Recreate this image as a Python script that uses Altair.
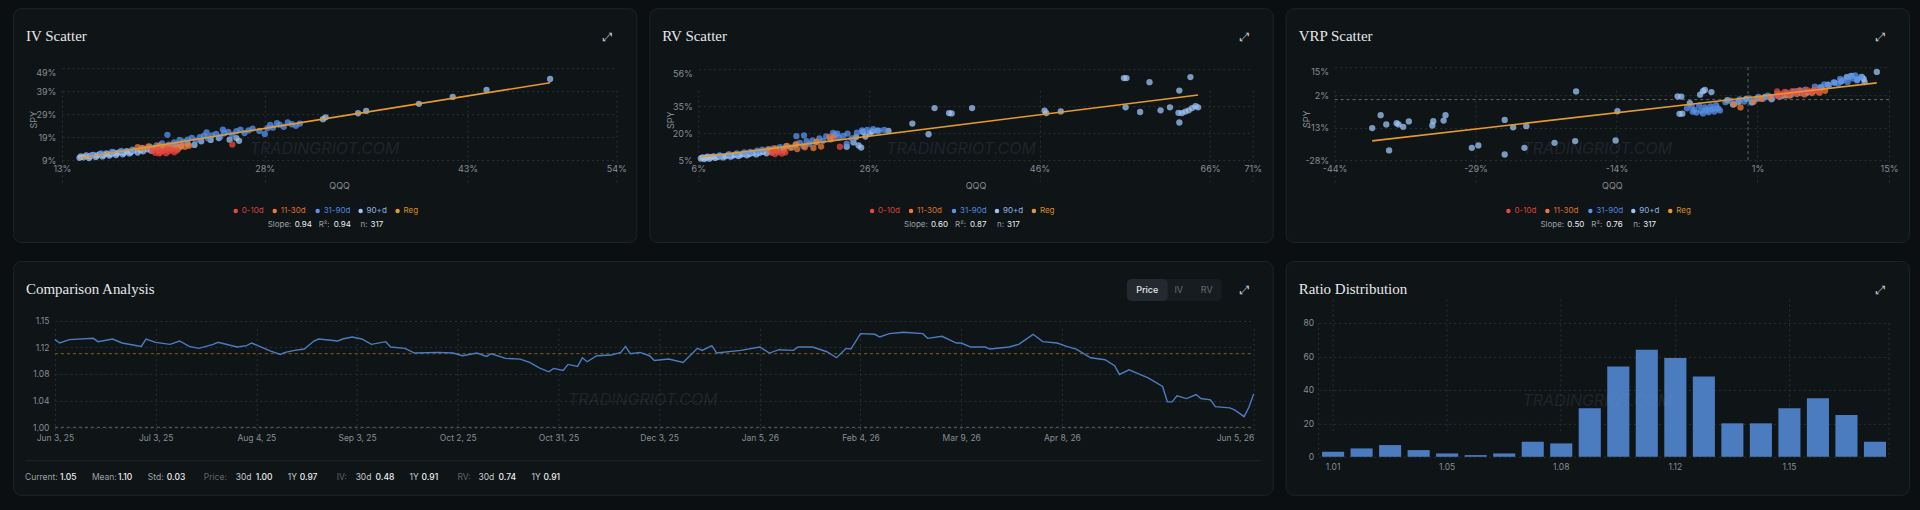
import json
import altair as alt
import pandas as pd

# ---------------- palette / fonts ----------------
PAGE_BG = "#0b0f12"
CARD_BG = "#0f1417"
CARD_BORDER = "#1d2428"
GRID_COLOR = "#2a3136"
AXIS_LABEL = "#868d93"
TITLE_COLOR = "#e6e7e8"
MUTED = "#9aa0a6"
DIM = "#5d646a"
SOFT = "#c3c7cb"
BRIGHT = "#eceff1"
SANS = "Inter"
SERIF = "Liberation Serif"

CARD_W, CARD_H = 624, 234
WIDE_W = 1261

AGES = ["0-10d", "11-30d", "31-90d", "90+d"]
AGE_COLORS = ["#e8483e", "#f07a30", "#5a92ec", "#9ec4f5"]
REG_COLOR = "#e49b2c"
LINE_BLUE = "#4c7dc0"
BAR_BLUE = "#4b7cc0"

# ---------------- IV scatter (QQQ vs SPY implied vol, %) ----------------
IV_0_10_QQQ = [19.7, 19.9, 20.1, 20.3, 20.5, 20.7, 20.9, 21.1, 21.3, 21.5, 20.2, 20.8, 25.6]
IV_0_10_SPY = [13.0, 12.2, 13.4, 12.5, 13.1, 12.0, 12.8, 13.5, 12.4, 13.2, 11.9, 13.9, 15.8]
IV_11_30_QQQ = [18.6, 19.0, 19.4, 19.8, 20.2, 20.6, 21.0, 21.4, 21.8, 22.1, 22.4, 21.6]
IV_11_30_SPY = [14.6, 14.2, 15.0, 14.0, 15.3, 14.5, 15.1, 14.3, 15.6, 14.8, 15.2, 13.9]
IV_31_90_QQQ = [15.2, 15.9, 16.7, 17.4, 18.2, 18.9, 19.5, 20.0, 20.4, 20.9,
                21.3, 21.7, 22.0, 22.3, 22.6, 22.9, 23.2, 23.5, 23.8, 24.1,
                24.4, 24.7, 25.0, 25.3, 25.6, 25.9, 26.2, 26.5, 26.8, 27.1,
                27.6, 28.0, 28.2, 28.4, 28.6, 28.9, 29.1, 29.4, 29.7, 30.0,
                30.3, 30.6, 20.8, 23.7, 24.9]
IV_31_90_SPY = [11.1, 11.9, 12.6, 13.0, 13.5, 14.3, 14.9, 15.4, 16.3, 15.7,
                16.7, 17.8, 17.0, 17.9, 18.7, 17.6, 19.0, 19.6, 18.5, 19.8,
                20.4, 19.2, 20.7, 21.3, 20.1, 21.6, 22.2, 20.8, 21.9, 22.7,
                21.7, 20.4, 22.9, 24.3, 23.1, 25.1, 24.4, 23.5, 25.4, 24.6,
                23.9, 24.9, 20.0, 21.0, 22.3]
IV_90_QQQ = [14.3, 14.4, 14.6, 14.8, 15.0, 15.1, 15.3, 15.5, 15.6, 15.8,
             16.0, 16.1, 16.3, 16.5, 16.6, 16.8, 17.0, 17.1, 17.3, 17.5,
             17.6, 17.8, 18.0, 18.1, 18.3, 18.6, 18.8, 19.0, 19.3, 19.6,
             19.9, 20.3, 20.6, 21.0, 21.4, 21.8, 22.3, 22.8, 23.3, 24.0,
             24.6, 25.4, 25.9, 26.1,
             32.3, 32.5, 34.9, 35.5, 39.4, 41.9, 44.4, 49.1]
IV_90_SPY = [10.0, 10.6, 10.2, 11.0, 9.9, 10.7, 11.3, 10.3, 11.0, 11.6,
             10.6, 11.3, 11.9, 11.0, 11.6, 12.3, 11.2, 12.0, 12.6, 11.5,
             12.2, 12.9, 11.9, 12.5, 13.2, 12.3, 13.4, 12.8, 13.7, 13.1,
             14.2, 13.6, 14.7, 14.3, 15.4, 14.9, 16.0, 15.6, 17.2, 17.8,
             18.6, 17.9, 18.6, 17.4,
             26.8, 27.6, 29.4, 30.4, 33.5, 36.5, 39.6, 44.3]
IV_FIT = {"slope": 0.94, "intercept": -3.5, "r2": 0.94, "n": 317}

# ---------------- RV scatter (realized vol, %) ----------------
RV_0_10_QQQ = [14.6, 15.0, 15.4, 15.8, 16.2, 14.9, 22.6]
RV_0_10_SPY = [9.1, 8.4, 9.5, 8.7, 9.3, 10.2, 12.5]
RV_11_30_QQQ = [14.3, 15.1, 16.0, 16.8, 17.6, 18.5, 19.5, 20.4, 21.4, 21.8, 16.4, 17.5, 19.9]
RV_11_30_SPY = [10.9, 11.6, 10.4, 11.9, 11.2, 12.2, 11.8, 12.6, 18.0, 17.4, 13.0, 13.9, 15.3]
RV_31_90_QQQ = [8.5, 9.6, 10.5, 11.4, 12.1, 12.9, 13.5, 14.2, 14.8, 15.6,
                16.3, 17.0, 17.4, 17.9, 18.3, 18.7, 19.0, 19.4, 19.8, 20.2,
                20.6, 21.0, 21.5, 22.0, 22.5, 23.0, 23.5, 24.0, 24.6, 25.2,
                25.8, 26.5, 27.2, 27.8, 17.5, 22.3, 21.8, 23.4, 18.4]
RV_31_90_SPY = [7.6, 8.3, 8.8, 9.3, 9.6, 10.3, 10.8, 11.2, 11.5, 12.3,
                12.8, 12.1, 13.6, 14.6, 12.9, 15.6, 14.0, 16.1, 14.9, 17.2,
                15.8, 18.3, 16.6, 19.1, 17.7, 18.6, 19.9, 17.1, 20.4, 21.6,
                21.9, 22.3, 21.5, 22.0, 18.4, 19.8, 20.3, 14.2, 18.8]
RV_90_QQQ = [6.3, 6.5, 6.7, 6.9, 7.1, 7.3, 7.5, 7.8, 8.0, 8.3,
             8.6, 8.9, 9.2, 9.5, 9.8, 10.1, 10.4, 10.7, 11.0, 11.3,
             11.7, 12.0, 12.4, 12.8, 13.2, 13.6, 14.0, 14.5, 15.2, 16.0,
             23.4, 24.2, 24.5, 24.8, 25.1, 25.3, 25.6, 26.1, 26.4, 27.0, 28.3,
             31.1, 33.0, 33.7, 35.4, 35.7, 38.1, 46.6, 46.8, 48.5,
             55.9, 56.2, 56.1, 57.8, 58.9, 60.2, 61.3, 62.3, 62.7, 63.1,
             63.5, 62.4, 62.4, 63.7, 63.9, 64.3, 64.6]
RV_90_SPY = [5.9, 6.5, 5.6, 6.3, 6.9, 5.8, 6.6, 7.1, 6.2, 6.8,
             7.4, 6.5, 7.2, 7.8, 6.9, 7.6, 8.1, 7.3, 8.0, 8.5,
             7.7, 8.4, 9.0, 8.2, 9.1, 9.6, 8.8, 9.8, 10.4, 10.9,
             12.5, 14.9, 17.9, 13.2, 12.0, 20.8, 18.2, 20.1, 21.1, 21.5, 21.4,
             25.5, 19.5, 34.2, 31.4, 31.2, 34.2, 32.7, 31.4, 32.3,
             51.0, 51.0, 34.6, 32.0, 48.7, 32.9, 34.6, 31.5, 31.4, 32.2,
             32.9, 26.1, 44.0, 51.6, 34.2, 35.3, 34.6]
RV_FIT = {"slope": 0.60, "intercept": 2.8, "r2": 0.87, "n": 317}

# ---------------- VRP scatter (IV - RV spread, %) ----------------
VRP_0_10_QQQ = [3.1, 3.5, 3.9, 4.3, 4.7, 5.1, 5.5, 5.9, 6.3, 6.7, 7.1, 7.4, 3.2]
VRP_0_10_SPY = [3.8, 2.6, 3.6, 2.8, 3.9, 3.1, 4.2, 3.3, 4.4, 3.6, 4.5, 3.9, 1.6]
VRP_11_30_QQQ = [-1.5, -0.8, 0.6, 1.4, 2.4, 3.6, 4.4, 5.2, 6.0, 6.8, 7.6, 8.2]
VRP_11_30_SPY = [-2.2, -3.6, -1.0, 0.3, 1.2, 1.9, 1.8, 2.6, 2.4, 3.0, 3.2, 4.1]
VRP_31_90_QQQ = [-6.0, -5.7, -5.5, -5.2, -5.0, -4.8, -4.6, -4.4, -4.2, -4.0,
                 -3.8, -3.6, -3.4, -3.2, -3.0, -5.9, -6.5,
                 -2.4, -1.9, -1.4, -0.9, -0.4, 0.1, 0.6, 1.1, 1.6,
                 2.1, 2.6, 3.1, 3.6, 4.1, 4.6, 5.1, 5.6, 6.1, 6.6,
                 7.1, 7.6, 8.1, 8.6, 9.1, 9.6, 10.1, 10.6, 11.1, 11.6,
                 12.0, 10.8, 11.4, 9.8]
VRP_31_90_SPY = [-3.0, -4.8, -6.0, -2.8, -5.2, -6.4, -3.6, -4.9, -5.8, -3.1,
                 -4.4, -5.5, -2.6, -4.1, -5.0, -5.6, -4.0,
                 -1.2, -0.5, -1.8, 0.1, -0.9, 0.6, -0.2, 1.2, 0.4,
                 1.8, 1.0, 2.5, 1.6, 3.2, 2.3, 3.9, 3.0, 4.6, 3.7,
                 6.0, 5.6, 7.0, 6.5, 8.0, 7.3, 8.9, 8.2, 9.8, 8.9,
                 10.3, 10.6, 11.2, 9.6]
VRP_90_QQQ = [-40.0, -39.1, -38.5, -38.2, -37.4, -37.2, -36.7, -36.1, -33.6, -33.5,
              -32.4, -32.2, -29.4, -28.7, -25.9, -25.9, -25.0, -23.8, -23.6, -20.6,
              -18.4, -18.3, -14.1, -13.9, -7.5, -7.1, -7.3, -7.0, -6.2, -5.1,
              -4.8, -4.6, -3.9,
              -2.2, -1.6, -1.0, -0.2, 0.4, 1.0, 1.8, 2.5, 3.3,
              4.0, 4.8, 5.5, 6.3, 7.0, 7.8, 8.5, 9.2, 9.9, 10.5,
              11.0, 11.6, 12.1, 12.3, 13.7, 12.4]
VRP_90_SPY = [-13.2, -7.2, -11.5, -23.5, -10.9, -11.5, -12.6, -10.1, -12.0, -10.0,
              -9.7, -7.2, -22.3, -21.2, -9.4, -25.4, -12.8, -22.3, -12.3, -20.0,
              -19.2, 3.8, -18.9, -5.4, 1.5, 1.4, -6.6, -6.5, -1.6, 2.3,
              3.9, 4.5, 3.5,
              -0.3, -2.3, -1.0, 0.3, -1.3, 0.5, 1.3, 0.2, 1.5,
              2.0, 3.4, 4.1, 3.3, 4.2, 5.6, 6.9, 7.9, 8.5, 10.4,
              11.0, 9.3, 10.5, 9.6, 12.8, 8.1]
VRP_FIT = {"slope": 0.50, "intercept": 0.9, "r2": 0.76, "n": 317}

# ---------------- Comparison analysis (ratio by trading day) ----------------
CMP_DAY = [0, 1, 3, 8, 9, 12, 14, 18, 19, 21, 24, 26, 28, 30, 33, 34, 38, 40, 41, 45,
           47, 48, 50, 52, 54, 55, 59, 60, 62, 64, 66, 69, 70, 73, 75, 80, 83, 85, 88, 90,
           91, 94, 97, 99, 101, 103, 104, 106, 107, 109, 110, 111, 113, 116, 118, 119, 120, 122, 124, 125,
           128, 131, 134, 135, 137, 138, 143, 147, 149, 151, 154, 155, 158, 161, 163, 165, 166, 168, 171, 172,
           174, 177, 181, 182, 185, 188, 189, 191, 194, 195, 199, 201, 204, 206, 209, 211, 213, 216, 219, 221,
           222, 224, 226, 228, 231, 232, 233, 234, 236, 238, 239, 241, 242, 245, 246, 248, 249, 250]
CMP_RATIO = [1.131, 1.126, 1.131, 1.133, 1.128, 1.132, 1.126, 1.121, 1.132, 1.127, 1.124, 1.129, 1.121, 1.118, 1.124, 1.127, 1.120, 1.122, 1.126, 1.114,
             1.109, 1.112, 1.115, 1.117, 1.129, 1.132, 1.129, 1.132, 1.135, 1.132, 1.124, 1.128, 1.120, 1.118, 1.111, 1.112, 1.111, 1.107, 1.111, 1.106,
             1.110, 1.103, 1.102, 1.097, 1.089, 1.083, 1.088, 1.085, 1.094, 1.091, 1.104, 1.098, 1.107, 1.108, 1.112, 1.121, 1.110, 1.112, 1.107, 1.100,
             1.102, 1.097, 1.118, 1.115, 1.122, 1.111, 1.115, 1.120, 1.111, 1.116, 1.115, 1.120, 1.120, 1.113, 1.104, 1.118, 1.117, 1.140, 1.139, 1.135,
             1.140, 1.142, 1.140, 1.133, 1.136, 1.126, 1.126, 1.120, 1.120, 1.117, 1.120, 1.124, 1.139, 1.128, 1.126, 1.121, 1.117, 1.104, 1.101, 1.092,
             1.079, 1.086, 1.080, 1.074, 1.061, 1.038, 1.038, 1.047, 1.043, 1.049, 1.043, 1.041, 1.031, 1.029, 1.026, 1.016, 1.030, 1.050]
CMP_TICK_DAY = [0, 21, 42, 63, 84, 105, 126, 147, 168, 189, 210, 250]
CMP_TICK_LABEL = ["Jun 3, 25", "Jul 3, 25", "Aug 4, 25", "Sep 3, 25", "Oct 2, 25", "Oct 31, 25",
                  "Dec 3, 25", "Jan 5, 26", "Feb 4, 26", "Mar 9, 26", "Apr 8, 26", "Jun 5, 26"]
CMP_Y_TICKS = [1.00, 1.04, 1.08, 1.12, 1.159]
CMP_MEAN_LINE = 1.11
CMP_BASE_LINE = 1.00
CMP_SUMMARY = [("Current:", "1.05"), ("Mean:", "1.10"), ("Std:", "0.03")]
CMP_CORR = [("Price:", "1.00", "0.97"), ("IV:", "0.48", "0.91"), ("RV:", "0.74", "0.91")]

# ---------------- Ratio distribution (histogram) ----------------
RATIO_BIN = [1.010, 1.019, 1.028, 1.036, 1.045, 1.054, 1.063, 1.071, 1.080, 1.089,
             1.098, 1.106, 1.115, 1.124, 1.133, 1.141, 1.150, 1.159, 1.168, 1.176]
RATIO_COUNT = [3, 5, 7, 4, 2, 1, 2, 9, 8, 29, 54, 64, 59, 48, 20, 20, 29, 35, 25, 9]
RATIO_LABELED = [RATIO_BIN[i] for i in (0, 4, 8, 12, 16)]


# ---------------- helpers ----------------
def one():
    return alt.Data(values=[{}])


def text_at(text, x, y, size=9, color=MUTED, font=SANS, align="left",
            weight="normal", style="normal", opacity=1.0):
    return alt.Chart(one()).mark_text(
        text=text, font=font, fontSize=size, color=color, align=align,
        baseline="middle", fontWeight=weight, fontStyle=style, opacity=opacity,
    ).encode(x=alt.value(x), y=alt.value(y))


def chrome(title, width, wm_y):
    """Card watermark, title and expand glyph."""
    return [
        text_at("TRADINGRIOT.COM", width / 2, wm_y, size=16, color="#8a9299",
                align="center", style="italic", opacity=0.13),
        text_at(title, 13, 28, size=15, color=TITLE_COLOR, font=SERIF),
        text_at("⤢", width - 28, 29, size=12, color="#c9cdd1",
                font="DejaVu Sans", align="center"),
    ]


def axis_style(**kw):
    base = dict(grid=True, gridColor=GRID_COLOR, gridDash=[2, 3], gridWidth=1,
                domain=False, ticks=False, labelFont=SANS, labelFontSize=9,
                labelColor=AXIS_LABEL, labelOverlap=False, titleFont=SANS,
                titleFontSize=9, titleFontWeight="normal", titleColor=AXIS_LABEL)
    base.update(kw)
    return alt.Axis(**base)


PCT_EXPR = "(datum.value < 0 ? '-' : '') + format(abs(datum.value), '.0f') + '%'"


def scatter_card(title, groups, x_dom, x_ticks, y_dom, y_ticks, y_rng, fit, zero_lines=False):
    x_rng = [49, 604]
    rows = []
    for age in ["90+d", "31-90d", "11-30d", "0-10d"]:
        xs, ys = groups[age]
        rows += [{"qqq": a, "spy": b, "age": age} for a, b in zip(xs, ys)]
    pts = pd.DataFrame(rows)

    xsc = alt.Scale(domain=x_dom, range=x_rng, nice=False, zero=False)
    ysc = alt.Scale(domain=y_dom, range=y_rng, nice=False, zero=False)
    x_ax = axis_style(values=x_ticks, labelExpr=PCT_EXPR, labelFlush=False,
                      labelPadding=4.5, offset=-(CARD_H - y_rng[0]),
                      title="QQQ", titleY=25.5, titleBaseline="middle")
    y_ax = axis_style(values=y_ticks, labelExpr=PCT_EXPR, labelFlush=False,
                      labelPadding=6, offset=-x_rng[0],
                      labelBaseline={"condition": {"test": f"datum.value >= {y_dom[1]}",
                                                   "value": "top"}, "value": "middle"},
                      title="SPY", titleX=-28, titleY=(y_rng[0] + y_rng[1]) / 2 + 5,
                      titleBaseline="middle", titleAngle=270)

    def X(f):
        return alt.X(f, type="quantitative", scale=xsc, axis=x_ax)

    def Y(f):
        return alt.Y(f, type="quantitative", scale=ysc, axis=y_ax)

    deco = chrome(title, CARD_W, 141)
    layers = [deco[0]]

    if zero_lines:
        zx = pd.DataFrame({"qqq": [0.0], "lo": [y_dom[0]], "hi": [y_dom[1]]})
        zy = pd.DataFrame({"spy": [0.0], "lo": [x_dom[0]], "hi": [x_dom[1]]})
        layers.append(alt.Chart(zx).mark_rule(color="#5f676d", strokeDash=[3, 3], strokeWidth=1)
                      .encode(x=X("qqq"), y=Y("lo"), y2="hi"))
        layers.append(alt.Chart(zy).mark_rule(color="#5f676d", strokeDash=[3, 3], strokeWidth=1)
                      .encode(y=Y("spy"), x=X("lo"), x2="hi"))

    layers.append(
        alt.Chart(pts).mark_circle(size=40, opacity=0.75).encode(
            x=X("qqq"), y=Y("spy"),
            color=alt.Color("age:N", scale=alt.Scale(domain=AGES, range=AGE_COLORS), legend=None),
        )
    )

    lo, hi = float(pts["qqq"].min()), float(pts["qqq"].max())
    reg = pd.DataFrame({"qqq": [lo, hi],
                        "spy": [fit["slope"] * lo + fit["intercept"],
                                fit["slope"] * hi + fit["intercept"]]})
    layers.append(alt.Chart(reg).mark_line(color=REG_COLOR, strokeWidth=1.6).encode(x=X("qqq"), y=Y("spy")))

    layers += deco[1:]

    # legend row
    for lbl, col, px in zip(AGES + ["Reg"], AGE_COLORS + [REG_COLOR], [223, 262, 305, 348, 385]):
        layers.append(alt.Chart(one()).mark_circle(size=20, color=col, opacity=1)
                      .encode(x=alt.value(px), y=alt.value(203)))
        layers.append(text_at(lbl, px + 6, 203, size=8, color=col, opacity=0.9))

    # fit statistics
    stats = [("Slope:", f"{fit['slope']:.2f}", 255, 282),
             ("R²:", f"{fit['r2']:.2f}", 306, 321),
             ("n:", f"{fit['n']}", 348, 358)]
    for name, val, px, vx in stats:
        layers.append(text_at(name, px, 217, size=8, color=MUTED))
        layers.append(text_at(val, vx, 217, size=8, color=BRIGHT))

    return alt.layer(*layers).properties(width=CARD_W, height=CARD_H)


# ---------------- scatter cards ----------------
iv_card = scatter_card(
    "IV Scatter",
    {"0-10d": (IV_0_10_QQQ, IV_0_10_SPY), "11-30d": (IV_11_30_QQQ, IV_11_30_SPY),
     "31-90d": (IV_31_90_QQQ, IV_31_90_SPY), "90+d": (IV_90_QQQ, IV_90_SPY)},
    [13, 54], [13, 28, 43, 54], [9, 49], [9, 19, 29, 39, 49], [152, 60], IV_FIT)

rv_card = scatter_card(
    "RV Scatter",
    {"0-10d": (RV_0_10_QQQ, RV_0_10_SPY), "11-30d": (RV_11_30_QQQ, RV_11_30_SPY),
     "31-90d": (RV_31_90_QQQ, RV_31_90_SPY), "90+d": (RV_90_QQQ, RV_90_SPY)},
    [6, 71], [6, 26, 46, 66, 71], [5, 56], [5, 20, 35, 56], [152, 61], RV_FIT)

vrp_card = scatter_card(
    "VRP Scatter",
    {"0-10d": (VRP_0_10_QQQ, VRP_0_10_SPY), "11-30d": (VRP_11_30_QQQ, VRP_11_30_SPY),
     "31-90d": (VRP_31_90_QQQ, VRP_31_90_SPY), "90+d": (VRP_90_QQQ, VRP_90_SPY)},
    [-44, 15], [-44, -29, -14, 1, 15], [-28, 15], [-28, -13, 2, 15], [152, 59], VRP_FIT,
    zero_lines=True)

# ---------------- comparison card ----------------
cx = alt.Scale(domain=[0, 250], range=[42, 1242], nice=False, zero=False)
cy = alt.Scale(domain=[1.00, 1.159], range=[166.5, 60], nice=False, zero=False)
cx_ax = axis_style(values=CMP_TICK_DAY, labelFontSize=8.5, labelPadding=6.5, labelFlush=False,
                   labelExpr=f"{json.dumps(CMP_TICK_LABEL)}[indexof({json.dumps(CMP_TICK_DAY)}, datum.value)]",
                   labelAlign={"condition": {"test": f"datum.value >= {CMP_TICK_DAY[-1]}", "value": "right"},
                               "value": "center"},
                   offset=-(CARD_H - 166.5), title=None)
cy_ax = axis_style(values=CMP_Y_TICKS, labelFontSize=8.5, labelPadding=6, labelFlush=False,
                   labelExpr="format(floor(datum.value * 100 + 0.000001) / 100, '.2f')",
                   offset=-42, title=None)

series = pd.DataFrame({"day": CMP_DAY, "ratio": CMP_RATIO})
base_level = pd.DataFrame({"d0": [0], "d1": [250], "v": [CMP_BASE_LINE]})
mean_level = pd.DataFrame({"d0": [0], "d1": [250], "v": [CMP_MEAN_LINE]})

cmp_deco = chrome("Comparison Analysis", WIDE_W, 139)
cmp_layers = [cmp_deco[0]]
for lvl, col in ((base_level, "#5c646a"), (mean_level, "#7d632c")):
    cmp_layers.append(
        alt.Chart(lvl).mark_rule(strokeDash=[3, 3], strokeWidth=1, color=col).encode(
            x=alt.X("d0:Q", scale=cx, axis=cx_ax), x2="d1",
            y=alt.Y("v:Q", scale=cy, axis=cy_ax),
        )
    )
cmp_layers.append(
    alt.Chart(series).mark_line(color=LINE_BLUE, strokeWidth=1.4).encode(
        x=alt.X("day:Q", scale=cx, axis=cx_ax), y=alt.Y("ratio:Q", scale=cy, axis=cy_ax))
)
cmp_layers += cmp_deco[1:]

# separator above the statistics row
cmp_layers.append(alt.Chart(one()).mark_rule(color="#1f272b", strokeWidth=1).encode(
    x=alt.value(12), x2=alt.value(1249), y=alt.value(200)))

# statistics row
STAT_SIZE = 8.5
summary_pos = [(12, 47), (79, 105), (135, 154)]
for (name, val), (px, vx) in zip(CMP_SUMMARY, summary_pos):
    cmp_layers.append(text_at(name, px, 216, size=STAT_SIZE, color=MUTED))
    cmp_layers.append(text_at(val, vx, 216, size=STAT_SIZE, color=BRIGHT, weight=500))
corr_pos = [(191, 223, 243, 275, 287), (324, 343, 363, 397, 409), (445, 466, 486, 519, 531)]
for (name, v30, v1y), (p0, p1, p2, p3, p4) in zip(CMP_CORR, corr_pos):
    cmp_layers.append(text_at(name, p0, 216, size=STAT_SIZE, color=DIM))
    cmp_layers.append(text_at("30d", p1, 216, size=STAT_SIZE, color=SOFT))
    cmp_layers.append(text_at(v30, p2, 216, size=STAT_SIZE, color=BRIGHT, weight=500))
    cmp_layers.append(text_at("1Y", p3, 216, size=STAT_SIZE, color=SOFT))
    cmp_layers.append(text_at(v1y, p4, 216, size=STAT_SIZE, color=BRIGHT, weight=500))

# Price / IV / RV toggle
cmp_layers.append(alt.Chart(one()).mark_rect(color="#161c20", cornerRadius=5).encode(
    x=alt.value(1115), x2=alt.value(1210), y=alt.value(18), y2=alt.value(40)))
cmp_layers.append(alt.Chart(one()).mark_rect(color="#232a2f", cornerRadius=5).encode(
    x=alt.value(1115), x2=alt.value(1156), y=alt.value(18), y2=alt.value(40)))
cmp_layers.append(text_at("Price", 1135.5, 29, size=9, color="#e2e5e8", align="center", weight=500))
cmp_layers.append(text_at("IV", 1167, 29, size=9, color="#666d73", align="center"))
cmp_layers.append(text_at("RV", 1195, 29, size=9, color="#666d73", align="center"))

cmp_card = alt.layer(*cmp_layers).properties(width=WIDE_W, height=CARD_H)

# ---------------- ratio distribution card ----------------
rx = alt.Scale(type="band", domain=RATIO_BIN, range=[33.2, 604.2],
               paddingInner=0.225, paddingOuter=0.1125)
ry = alt.Scale(domain=[0, 80], range=[196, 62], nice=False, zero=True)
rx_ax = axis_style(values=RATIO_LABELED, labelFontSize=8.5, labelPadding=5.5, bandPosition=0.5,
                   labelAngle=0, labelAlign="center",
                   labelExpr="format(datum.value + 0.0005, '.2f')",
                   offset=-(CARD_H - 196), title=None)
ry_ax = axis_style(values=[0, 20, 40, 60, 80], labelFontSize=8.5, labelPadding=5,
                   offset=-33, title=None)

hist = pd.DataFrame({"bin": RATIO_BIN, "count": RATIO_COUNT})
ratio_deco = chrome("Ratio Distribution", CARD_W, 140)
ratio_layers = [
    alt.Chart(hist).mark_bar(color=BAR_BLUE).encode(
        x=alt.X("bin:O", scale=rx, axis=rx_ax),
        y=alt.Y("count:Q", scale=ry, axis=ry_ax),
    ),
    alt.Chart(one()).mark_rule(color=GRID_COLOR, strokeDash=[2, 3]).encode(
        x=alt.value(33), y=alt.value(62), y2=alt.value(196)),
    alt.Chart(one()).mark_rule(color=GRID_COLOR, strokeDash=[2, 3]).encode(
        x=alt.value(604), y=alt.value(62), y2=alt.value(196)),
] + ratio_deco
ratio_card = alt.layer(*ratio_layers).properties(width=CARD_W, height=CARD_H)

# ---------------- dashboard ----------------
top = alt.hconcat(iv_card, rv_card, vrp_card, spacing=13, bounds="flush")
bottom = alt.hconcat(cmp_card, ratio_card, spacing=13, bounds="flush")
chart = (
    alt.vconcat(top, bottom, spacing=17)
    .properties(background=PAGE_BG, padding={"left": 12, "top": 7, "right": 10, "bottom": 15})
    .configure(font=SANS)
    .configure_view(fill=CARD_BG, stroke=CARD_BORDER, strokeWidth=1, cornerRadius=8)
)

chart.save("out.html", embed_options={"renderer": "svg", "actions": False})
